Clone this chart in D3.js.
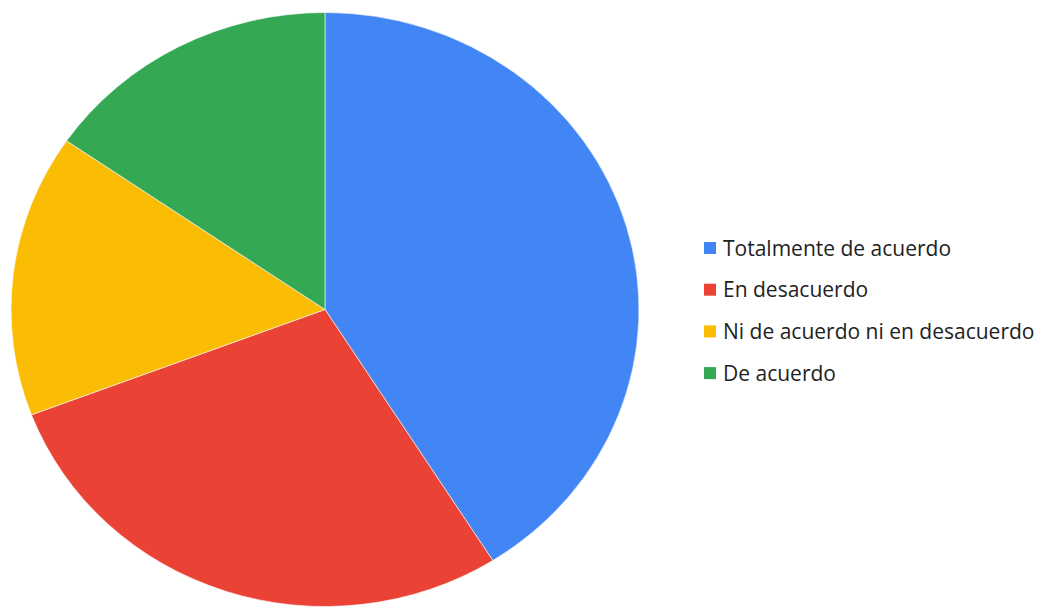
<!DOCTYPE html>
<html>
<head>
<meta charset="utf-8">
<script src="https://cdn.jsdelivr.net/npm/d3@7"></script>
<style>
  html, body { margin: 0; padding: 0; background: #fff; }
  svg { display: block; }
</style>
</head>
<body>
<svg id="chart" width="1042" height="607"></svg>
<script>
// Survey responses
const categories = ["Totalmente de acuerdo", "En desacuerdo", "Ni de acuerdo ni en desacuerdo", "De acuerdo"];
const counts = [16, 11, 6, 6];
const colors = ["#4285F4", "#EA4335", "#FBBC04", "#34A853"];

const svg = d3.select("#chart");

const cx = 325, cy = 309.5, rx = 314, ry = 297;

const data = categories.map((c, i) => ({ name: c, value: counts[i], color: colors[i] }));

const pie = d3.pie().value(d => d.value).sort(null);
const arc = d3.arc().innerRadius(0).outerRadius(rx);

const g = svg.append("g")
  .attr("transform", `translate(${cx},${cy}) scale(1,${ry / rx})`);

g.selectAll("path")
  .data(pie(data))
  .join("path")
  .attr("d", arc)
  .attr("fill", d => d.data.color)
  .attr("stroke", "#fff")
  .attr("stroke-width", 1)
  .attr("stroke-opacity", 0.6);

// Legend
const legend = svg.append("g").attr("transform", "translate(704,248)");
const rowH = 41.7;
const item = legend.selectAll("g")
  .data(data)
  .join("g")
  .attr("transform", (d, i) => `translate(0,${i * rowH})`);

item.append("rect")
  .attr("x", 0).attr("y", -6)
  .attr("width", 12).attr("height", 12)
  .attr("fill", d => d.color);

item.append("text")
  .attr("x", 19)
  .attr("y", 0)
  .attr("dy", "0.36em")
  .attr("font-family", "'Open Sans', sans-serif")
  .attr("font-size", 21)
  .attr("fill", "#222")
  .text(d => d.name);
</script>
</body>
</html>
